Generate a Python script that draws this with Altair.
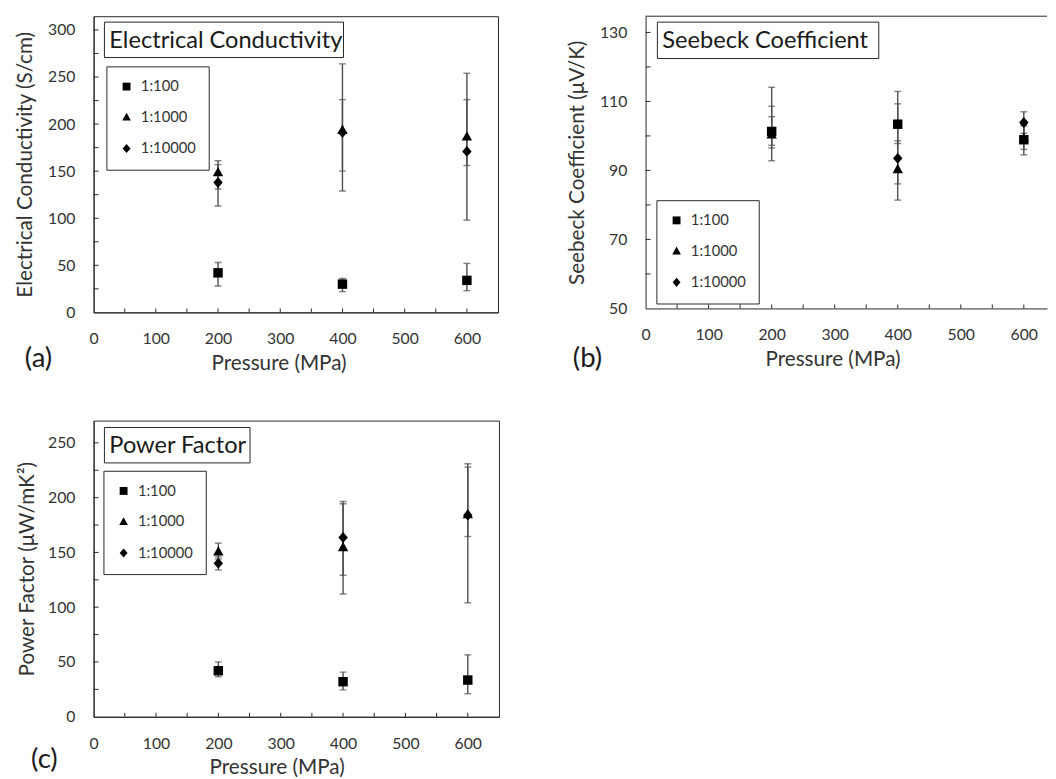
import altair as alt
import pandas as pd

FONT = "Lato"
FRAME = "#262626"
TEXT = "#333333"
EBAR = "#4d4d4d"

SERIES = ["1:100", "1:1000", "1:10000"]
SHAPES = ["square", "M0,-1.1L1.1,0.9L-1.1,0.9Z", "M0,-1.15L1,0L0,1.15L-1,0Z"]
PRESSURE = [200, 400, 600]

X_LABELS = [0, 100, 200, 300, 400, 500, 600]
X_MINOR = [50, 100, 150, 200, 250, 300, 350, 400, 450, 500, 550, 600]

# (a) Electrical conductivity (S/cm)
EC_100 = [42, 30, 34]
EC_100_LO = [28, 22, 23]
EC_100_HI = [53, 36, 52]
EC_1000 = [149, 194, 187]
EC_1000_LO = [131, 129, 156]
EC_1000_HI = [161, 264, 226]
EC_10000 = [138, 191, 171]
EC_10000_LO = [113, 150, 98]
EC_10000_HI = [157, 226, 254]
EC_Y_LABELS = [0, 50, 100, 150, 200, 250, 300]
EC_Y_MINOR = [25, 50, 75, 100, 125, 150, 175, 200, 225, 250, 275, 300]

# (b) Seebeck coefficient (uV/K)
SB_100 = [101.3, 103.4, 98.9]
SB_100_LO = [97.3, 97.8, 94.5]
SB_100_HI = [105.6, 109.3, 103.3]
SB_1000 = [100.5, 90.4, 99.5]
SB_1000_LO = [92.8, 81.4, 96.1]
SB_1000_HI = [114.1, 98.6, 102.9]
SB_10000 = [100.8, 93.5, 103.9]
SB_10000_LO = [96.5, 86.1, 100.8]
SB_10000_HI = [108.6, 112.9, 107.0]
SB_Y_LABELS = [50, 70, 90, 110, 130]
SB_Y_MINOR = [60, 70, 80, 90, 100, 110, 120, 130]

# (c) Power factor (uW/mK^2)
PF_100 = [42, 32, 33.5]
PF_100_LO = [36.5, 24.5, 21]
PF_100_HI = [50, 40.7, 56.5]
PF_1000 = [151, 155, 185]
PF_1000_LO = [144, 112, 104]
PF_1000_HI = [158.5, 194.4, 230.9]
PF_10000 = [140, 163.6, 184]
PF_10000_LO = [134, 129.2, 164.5]
PF_10000_HI = [146, 196.5, 227.9]
PF_Y_LABELS = [0, 50, 100, 150, 200, 250]
PF_Y_MINOR = [25, 50, 75, 100, 125, 150, 175, 200, 225, 250]


def table(vals, los, his):
    rows = []
    for s, v, lo, hi in zip(SERIES, vals, los, his):
        for p, a, b, c in zip(PRESSURE, v, lo, hi):
            rows.append({"pressure": p, "series": s, "value": a, "lo": b, "hi": c})
    return pd.DataFrame(rows)


def panel(df, W, H, xdom, ydom, ylabels, yminor, ytitle, title, box, leg,
          letter, letter_xy, xtitle_x, ytitle_x, open_right=False):
    xs = alt.Scale(domain=xdom, nice=False, zero=False)
    ys = alt.Scale(domain=ydom, nice=False, zero=False)
    xaxis = alt.Axis(values=X_LABELS, title="Pressure (MPa)", grid=False, ticks=False,
                     tickSize=0, labelPadding=19, labelFlush=False, labelOverlap=False,
                     titleX=xtitle_x, titleY=52, titleAlign="center",
                     titleBaseline="middle")
    yaxis = alt.Axis(values=ylabels, title=ytitle, grid=False, ticks=False, tickSize=0,
                     labelPadding=19, labelOverlap=False, titleX=ytitle_x, titleY=H / 2,
                     titleAlign="center", titleBaseline="middle")

    def X(field):
        return alt.X(field, scale=xs, axis=xaxis)

    def Y(field):
        return alt.Y(field, scale=ys, axis=yaxis)

    xt = alt.Chart(pd.DataFrame({"t": X_MINOR})).mark_rule(color=FRAME, strokeWidth=1).encode(
        x=X("t:Q"), y=alt.value(H), y2=alt.value(H - 4))
    yt = alt.Chart(pd.DataFrame({"t": yminor})).mark_rule(color=FRAME, strokeWidth=1).encode(
        y=Y("t:Q"), x=alt.value(0), x2=alt.value(5))

    bars = alt.Chart(df).mark_rule(color=EBAR, strokeWidth=1.4).encode(
        x=X("pressure:Q"), y=Y("lo:Q"), y2="hi:Q")
    cap_lo = alt.Chart(df).mark_tick(color=EBAR, orient="horizontal", size=7, thickness=1.4).encode(
        x=X("pressure:Q"), y=Y("lo:Q"))
    cap_hi = alt.Chart(df).mark_tick(color=EBAR, orient="horizontal", size=7, thickness=1.4).encode(
        x=X("pressure:Q"), y=Y("hi:Q"))

    pts = alt.Chart(df).mark_point(filled=True, opacity=1, size=92, color="black").encode(
        x=X("pressure:Q"),
        y=Y("value:Q"),
        shape=alt.Shape("series:N", scale=alt.Scale(domain=SERIES, range=SHAPES),
                        legend=alt.Legend(title=None, orient="none", legendX=leg[0], legendY=leg[1],
                                          strokeColor=FRAME, fillColor="white", padding=13,
                                          rowPadding=15, labelFontSize=15, labelColor=TEXT,
                                          labelFont=FONT, labelOffset=7, symbolSize=64,
                                          symbolFillColor="black", symbolStrokeColor="black")),
    )

    one = pd.DataFrame({"label": [title]})
    rect = alt.Chart(one).mark_rect(fill="white", stroke=FRAME, strokeWidth=1).encode(
        x=alt.value(box[0]), x2=alt.value(box[2]), y=alt.value(box[1]), y2=alt.value(box[3]))
    ttl = alt.Chart(one).mark_text(align="left", baseline="middle", fontSize=24, color="#1a1a1a",
                                   font=FONT).encode(
        x=alt.value(box[0] + 5), y=alt.value((box[1] + box[3]) / 2 + 1), text="label:N")
    let = alt.Chart(pd.DataFrame({"label": [letter]})).mark_text(
        align="center", baseline="middle", fontSize=28, color="#1a1a1a", font=FONT).encode(
        x=alt.value(letter_xy[0]), y=alt.value(letter_xy[1]), text="label:N")

    layers = [xt, yt, bars, cap_lo, cap_hi, pts, rect, ttl, let]
    if open_right:
        top = alt.Chart(pd.DataFrame({"k": [0]})).mark_rule(color=FRAME, strokeWidth=1).encode(
            x=alt.value(0), x2=alt.value(W), y=alt.value(0))
        layers.append(top)
    ch = alt.layer(*layers).properties(width=W, height=H)
    if open_right:
        ch = ch.properties(view=alt.ViewBackground(stroke="transparent"))
    return ch


pa = panel(table([EC_100, EC_1000, EC_10000], [EC_100_LO, EC_1000_LO, EC_10000_LO],
                 [EC_100_HI, EC_1000_HI, EC_10000_HI]),
           411, 301, [0, 650], [0, 314.6], EC_Y_LABELS, EC_Y_MINOR,
           "Electrical Conductivity (S/cm)", "Electrical Conductivity", (11, 6, 254, 42),
           (13, 51), "(a)", (-56, 349), 188, -69)

pb = panel(table([SB_100, SB_1000, SB_10000], [SB_100_LO, SB_1000_LO, SB_10000_LO],
                 [SB_100_HI, SB_1000_HI, SB_10000_HI]),
           408, 297, [0, 636.8], [50, 134.7], SB_Y_LABELS, SB_Y_MINOR,
           "Seebeck Coefficient (μV/K)", "Seebeck Coefficient", (12, 6, 237, 43),
           (11, 187), "(b)", (-59, 349), 190, -69, open_right=True)

pc = panel(table([PF_100, PF_1000, PF_10000], [PF_100_LO, PF_1000_LO, PF_10000_LO],
                 [PF_100_HI, PF_1000_HI, PF_10000_HI]),
           412, 301, [0, 650], [0, 270.3], PF_Y_LABELS, PF_Y_MINOR,
           "Power Factor (μW/mK²)", "Power Factor", (11, 7, 159, 43),
           (10, 51), "(c)", (-50, 345), 186, -67)

top = alt.hconcat(pa, pb, spacing=68).resolve_scale(shape="independent")
chart = (
    alt.vconcat(top, pc, spacing=46)
    .resolve_scale(shape="independent")
    .properties(padding={"left": 6, "top": 1, "right": 0, "bottom": 0})
    .configure(font=FONT)
    .configure_view(stroke=FRAME, strokeWidth=1)
    .configure_axis(labelFont=FONT, titleFont=FONT, labelFontSize=16, titleFontSize=21,
                    titleFontWeight="normal", labelColor=TEXT, titleColor=TEXT,
                    domainColor=FRAME, domainWidth=1)
)

chart.save("out.html", embed_options={"renderer": "svg", "actions": False})
